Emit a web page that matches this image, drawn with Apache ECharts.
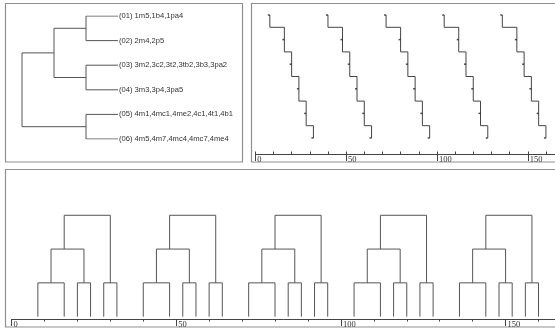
<!DOCTYPE html>
<html><head><meta charset="utf-8">
<script src="https://cdn.jsdelivr.net/npm/echarts@6/dist/echarts.min.js"></script>
<style>html,body{margin:0;padding:0;background:#fff}#c{width:555px;height:329px}</style>
</head><body><div id="c"></div><script>
// ---- data ----
const leafLabels = ['(01) 1m5,1b4,1pa4', '(02) 2m4,2p5', '(03) 3m2,3c2,3t2,3tb2,3b3,3pa2', '(04) 3m3,3p4,3pa5', '(05) 4m1,4mc1,4me2,4c1,4t1,4b1', '(06) 4m5,4m7,4mc4,4mc7,4me4'];
// [leftNode, rightNode, height]; nodes 0-5 leaves, 6.. merges in order
const treeMerges = [[0,1,1],[2,3,1],[4,5,1],[6,7,2],[9,8,3]];
// repeated sequence clusters
const clusterStarts = [0, 32, 64, 96, 128];
const leafOffsets = [8, 16, 20, 24, 28, 32];
const leafRanks = [0, 1, 2, 3, 4, 5];
// [leftNode, rightNode, height, nodeOffset]
const clusterMerges = [[0,1,1,12],[2,3,1,22],[4,5,1,30],[6,7,2,16],[9,8,3,23]];
const tickMajor = 50, tickMinor = 10, axisMax = 165;

// ---- build top-left dendrogram (x = height, y = leaf index) ----
const tlNodes = leafLabels.map((_, i) => ({h: 0, p: i}));
const tlLines = [];
treeMerges.forEach(([a, b, h]) => {
  const A = tlNodes[a], B = tlNodes[b];
  tlLines.push({coords: [[A.h, A.p], [h, A.p], [h, B.p], [B.h, B.p]]});
  tlNodes.push({h, p: (A.p + B.p) / 2});
});

// ---- step chart and bottom dendrogram ----
const stepLines = [], stepMarks = [], botLines = [];
clusterStarts.forEach(s => {
  const xs = leafOffsets.map(o => s + o);
  const pts = [[xs[0], leafRanks[0]]];
  for (let i = 0; i < xs.length; i++) {
    const yTop = i === 0 ? leafRanks[0] : leafRanks[i] - 0.5;
    const yBot = i === xs.length - 1 ? leafRanks[i] : leafRanks[i] + 0.5;
    if (i > 0) pts.push([xs[i], yTop]);
    pts.push([xs[i], yBot]);
    stepMarks.push([xs[i], leafRanks[i]]);
  }
  stepLines.push({coords: pts});
  const nodes = xs.map(x => ({x, h: 0}));
  clusterMerges.forEach(([a, b, h, off]) => {
    const A = nodes[a], B = nodes[b];
    botLines.push({coords: [[A.x, A.h], [A.x, h], [B.x, h], [B.x, B.h]]});
    nodes.push({x: s + off, h});
  });
});

const axisColor = '#444';
function majorAxis(gi) {
  return {type: 'value', gridIndex: gi, min: 0, max: axisMax, interval: tickMajor,
    axisLine: {show: true, onZero: false, lineStyle: {color: axisColor, width: 1}},
    axisTick: {show: true, inside: false, length: 7, lineStyle: {color: axisColor}},
    axisLabel: {show: true, align: 'left', verticalAlign: 'top', margin: 0, padding: [1, 0, 0, 2],
      fontFamily: 'Liberation Serif', fontSize: 8.5, color: '#333', showMaxLabel: false},
    splitLine: {show: false}};
}
function minorAxis(gi, inside) {
  return {type: 'value', gridIndex: gi, min: 0, max: axisMax, interval: tickMinor,
    axisLine: {show: false, onZero: false},
    axisTick: {show: true, inside, length: 2.5, lineStyle: {color: axisColor}},
    axisLabel: {show: false}, splitLine: {show: false}};
}
const hiddenY = (gi, min, max, inverse) => ({type: 'value', gridIndex: gi, min, max, inverse, show: false});

const chart = echarts.init(document.getElementById('c'), null, {renderer: 'canvas'});
const frame = {fill: null, stroke: '#8f8f8f', lineWidth: 1.2};
chart.setOption({
  animation: false,
  backgroundColor: '#fff',
  graphic: [
    {type: 'rect', z: 0, shape: {x: 5.5, y: 3.5, width: 237, height: 158.5}, style: frame},
    {type: 'rect', z: 0, shape: {x: 251.5, y: 3.5, width: 330, height: 158.5}, style: frame},
    {type: 'rect', z: 0, shape: {x: 5.5, y: 169.5, width: 580, height: 157.5}, style: frame}
  ],
  grid: [
    {left: 22, top: 16, width: 96, height: 123},
    {left: 255.3, top: 15, width: 308, height: 139},
    {left: 255.3, top: 15, width: 308, height: 139},
    {left: 11.5, top: 169, width: 561, height: 150},
    {left: 11.5, top: 169, width: 561, height: 150}
  ],
  xAxis: [
    {type: 'value', gridIndex: 0, min: 0, max: 3, inverse: true, show: false},
    majorAxis(1), minorAxis(2, true), majorAxis(3), minorAxis(4, false)
  ],
  yAxis: [
    hiddenY(0, 0, 5, true),
    {type: 'category', gridIndex: 0, position: 'right', inverse: true, boundaryGap: false, data: leafLabels,
      axisLine: {show: false}, axisTick: {show: false}, splitLine: {show: false},
      axisLabel: {interval: 0, margin: 1, align: 'left', fontFamily: 'Liberation Sans', fontSize: 7.6, color: '#333'}},
    hiddenY(1, 0, 139 / 24.6, true),
    hiddenY(2, 0, 1, false),
    hiddenY(3, -0.07, 4.37, false),
    hiddenY(4, 0, 1, false)
  ],
  series: [
    {type: 'lines', coordinateSystem: 'cartesian2d', xAxisIndex: 0, yAxisIndex: 0, polyline: true, silent: true,
      lineStyle: {color: '#555', width: 1, opacity: 1}, data: tlLines},
    {type: 'lines', coordinateSystem: 'cartesian2d', xAxisIndex: 1, yAxisIndex: 2, polyline: true, silent: true,
      lineStyle: {color: '#444', width: 1, opacity: 1}, data: stepLines},
    {type: 'scatter', xAxisIndex: 1, yAxisIndex: 2, symbol: 'rect', symbolSize: [2, 1.5], symbolOffset: [-1, 0], silent: true,
      itemStyle: {color: '#222'}, data: stepMarks},
    {type: 'lines', coordinateSystem: 'cartesian2d', xAxisIndex: 3, yAxisIndex: 4, polyline: true, silent: true,
      lineStyle: {color: '#555', width: 1, opacity: 1}, data: botLines}
  ]
});
</script></body></html>
